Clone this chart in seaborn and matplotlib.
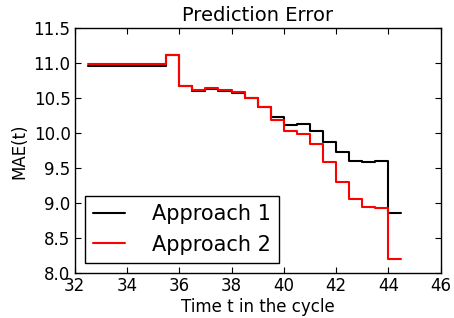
import pandas as pd
import matplotlib
matplotlib.use("Agg")
import matplotlib.pyplot as plt
import seaborn as sns

# step edges (time t in the cycle)
t = [32.5, 35.5, 36.0, 36.5, 37.0, 37.5, 38.0, 38.5, 39.0, 39.5,
     40.0, 40.5, 41.0, 41.5, 42.0, 42.5, 43.0, 43.5, 44.0, 44.5]

# MAE(t) per step (last value repeated to close the final step)
mae_1 = [10.96, 11.12, 10.67, 10.60, 10.63, 10.60, 10.58, 10.50, 10.38, 10.23,
         10.12, 10.13, 10.03, 9.88, 9.73, 9.60, 9.59, 9.60, 8.86, 8.86]
mae_2 = [10.99, 11.12, 10.67, 10.62, 10.64, 10.62, 10.59, 10.50, 10.38, 10.19,
         10.03, 9.99, 9.84, 9.59, 9.31, 9.06, 8.95, 8.93, 8.20, 8.20]

df = pd.DataFrame({
    "t": t + t,
    "MAE": mae_1 + mae_2,
    "Approach": ["Approach 1"] * len(t) + ["Approach 2"] * len(t),
})

sns.set_style("ticks", {
    "text.color": "black",
    "axes.labelcolor": "black",
    "xtick.color": "black",
    "ytick.color": "black",
    "axes.edgecolor": "black",
})
plt.rcParams["font.family"] = ["DejaVu Sans"]

fig, ax = plt.subplots(figsize=(4.54, 3.18), dpi=100)
fig.subplots_adjust(left=0.1645, right=0.9707, bottom=0.1406, top=0.911)

sns.lineplot(
    data=df,
    x="t",
    y="MAE",
    hue="Approach",
    palette=["black", "red"],
    drawstyle="steps-post",
    estimator=None,
    linewidth=1.5,
    ax=ax
)

ax.set_xlim(32, 46)
ax.set_ylim(8.0, 11.5)
ax.set_xticks(range(32, 47, 2))
ax.set_yticks([8.0, 8.5, 9.0, 9.5, 10.0, 10.5, 11.0, 11.5])
ax.set_yticklabels([f"{v:.1f}" for v in ax.get_yticks()])
ax.tick_params(direction="in", top=True, right=True, labelsize=12,
               length=4, pad=3, colors="black")
for s in ax.spines.values():
    s.set_color("black")
    s.set_linewidth(1.0)

ax.set_title("Prediction Error", fontsize=14, color="black", pad=5)
ax.set_xlabel("Time t in the cycle", fontsize=12, labelpad=2)
ax.set_ylabel("MAE(t)", fontsize=12, labelpad=4)

handles, labels = ax.get_legend_handles_labels()
leg = ax.legend(handles, labels, loc="lower left", fontsize=15,
                fancybox=False, frameon=True, handlelength=1.5,
                handletextpad=1.3, borderaxespad=0.5)
leg.get_frame().set_edgecolor("black")
leg.get_frame().set_alpha(1)

fig.savefig("out.png", dpi=100)
